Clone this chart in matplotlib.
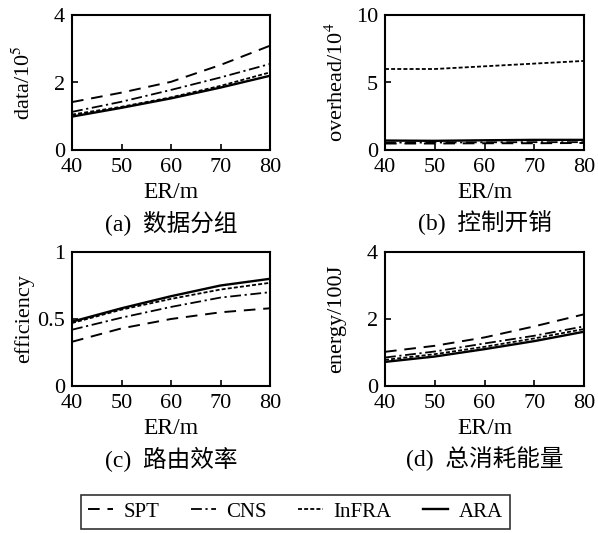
import numpy as np
import matplotlib.pyplot as plt
from matplotlib.lines import Line2D

plt.rcParams['font.family'] = ['Liberation Serif', 'Noto Sans CJK SC']
plt.rcParams['mathtext.fontset'] = 'stix'

er = [40, 50, 60, 70, 80]
series = ["SPT", "CNS", "InFRA", "ARA"]

data_spt = [1.42, 1.70, 2.02, 2.52, 3.09]
data_cns = [1.13, 1.43, 1.78, 2.15, 2.55]
data_infra = [1.05, 1.28, 1.56, 1.90, 2.30]
data_ara = [0.99, 1.25, 1.53, 1.85, 2.20]

over_spt = [0.48, 0.48, 0.50, 0.50, 0.52]
over_cns = [0.55, 0.55, 0.57, 0.58, 0.58]
over_infra = [6.0, 6.0, 6.2, 6.4, 6.6]
over_ara = [0.70, 0.68, 0.72, 0.75, 0.75]

eff_spt = [0.33, 0.43, 0.50, 0.55, 0.58]
eff_cns = [0.42, 0.51, 0.59, 0.66, 0.70]
eff_infra = [0.47, 0.57, 0.65, 0.72, 0.77]
eff_ara = [0.48, 0.58, 0.67, 0.75, 0.80]

en_spt = [1.02, 1.20, 1.45, 1.78, 2.14]
en_cns = [0.85, 1.03, 1.27, 1.50, 1.78]
en_infra = [0.78, 0.95, 1.17, 1.42, 1.70]
en_ara = [0.72, 0.88, 1.10, 1.34, 1.62]

styles = {
    "SPT": dict(ls=(0, (6, 4)), lw=1.4),
    "CNS": dict(ls=(0, (6, 2, 1.2, 2)), lw=1.3),
    "InFRA": dict(ls=(0, (2.2, 1.2)), lw=1.3),
    "ARA": dict(ls="-", lw=1.7),
}

panels = [
    ([72, 15, 270, 150], [data_spt, data_cns, data_infra, data_ara], (0, 4), [0, 2, 4],
     "data/10$^5$", "(a)  数据分组"),
    ([385, 15, 584, 150], [over_spt, over_cns, over_infra, over_ara], (0, 10), [0, 5, 10],
     "overhead/10$^4$", "(b)  控制开销"),
    ([72, 252, 270, 386], [eff_spt, eff_cns, eff_infra, eff_ara], (0, 1), [0, 0.5, 1],
     "efficiency", "(c)  路由效率"),
    ([385, 252, 584, 386], [en_spt, en_cns, en_infra, en_ara], (0, 4), [0, 2, 4],
     "energy/100J", "(d)  总消耗能量"),
]

W, H = 598, 533
fig = plt.figure(figsize=(W / 100, H / 100), dpi=100)

for (x0, y0, x1, y1), vals, ylim, yt, ylab, cap in panels:
    aw, ah = x1 - x0, y1 - y0
    ax = fig.add_axes([x0 / W, 1 - y1 / H, aw / W, ah / H])
    for name, v in zip(series, vals):
        ax.plot(er, v, color="black", **styles[name])
    ax.set_xlim(40, 80)
    ax.set_ylim(*ylim)
    ax.set_xticks([40, 50, 60, 70, 80])
    ax.set_yticks(yt)
    ax.set_yticklabels([("%g" % t) for t in yt])
    ax.tick_params(direction="in", length=4, width=1.2, labelsize=16)
    ax.tick_params(axis="x", pad=5.5)
    ax.tick_params(axis="y", pad=5)
    for s in ax.spines.values():
        s.set_linewidth(1.5)
    ax.set_xlabel("ER/m", fontsize=17)
    ax.xaxis.set_label_coords(0.5, -43 / ah)
    ax.xaxis.label.set_va("center")
    ax.set_ylabel(ylab, fontsize=16)
    ax.yaxis.set_label_coords(-48 / aw, 0.5)
    ax.yaxis.label.set_va("center")
    ax.text(0.5, -73 / ah, cap, transform=ax.transAxes, ha="center", va="center", fontsize=17)

handles = [Line2D([], [], color="black", **styles[n]) for n in series]
leg = fig.legend(handles, series, loc="center", bbox_to_anchor=(0.494, 1 - 512 / H),
                 ncol=4, fontsize=15, frameon=True, fancybox=False, handlelength=1.2,
                 columnspacing=1.5, handletextpad=0.5, borderpad=0.35)
leg.get_frame().set_edgecolor("black")
leg.get_frame().set_linewidth(1.2)

fig.savefig("out.png", dpi=100)
